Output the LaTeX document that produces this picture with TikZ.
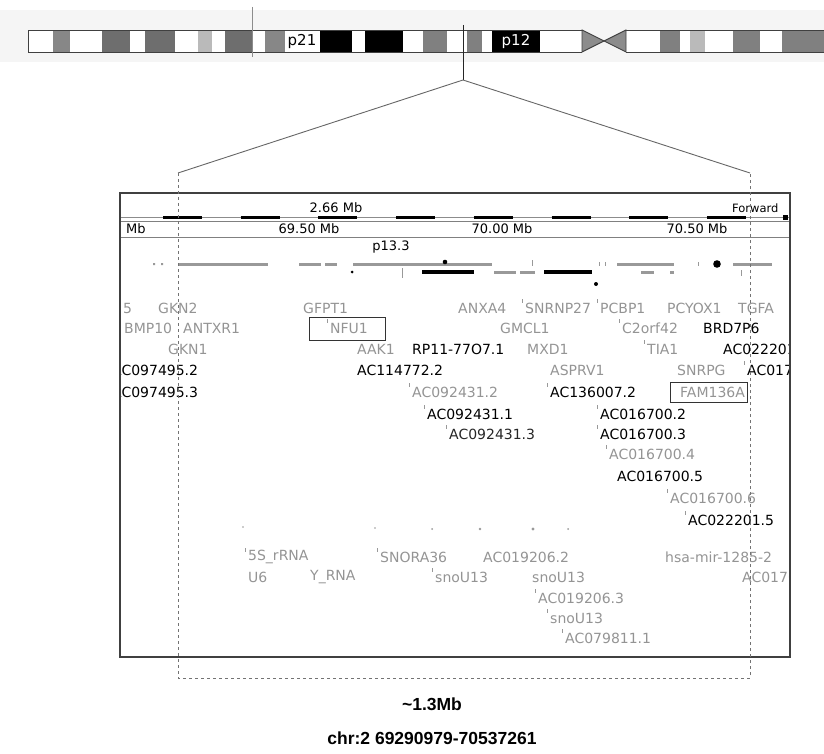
\documentclass[tikz,border=0pt]{standalone}
\usepackage{fontspec}
\setmainfont{DejaVu Sans}
\newfontfamily\capfont{Liberation Sans}
\usetikzlibrary{positioning}

\begin{document}
\begin{tikzpicture}[x=1pt,y=-1pt,
  band/.style={draw=black!75,line width=0.9pt},
  lbl/.style={anchor=west,inner sep=0pt,font=\fontsize{14}{14}\selectfont},
  scl/.style={inner sep=0pt,font=\fontsize{13}{13}\selectfont},
  trk/.style={black!40,line width=3pt},
  blk/.style={black,line width=4.5pt},
  caplbl/.style={inner sep=0pt,font=\capfont\bfseries\fontsize{17.5}{18}\selectfont}]
\useasboundingbox (0,0) rectangle (824,754);
% ideogram of chr2
\fill[black!4] (0,10) rectangle (824,62);
\foreach \a/\b/\c in {28/53/white,53/70/black!47,70/102/white,102/130/black!57,130/145/white,
  145/175/black!57,175/198/white,198/212/black!27,212/225/white,225/252/black!57,252/265/white,
  265/285/black!47,285/320/white,320/352/black,352/365/white,365/403/black,403/423/white,
  423/447/black!50,447/467/white,467/482/black!50,482/492/white,492/540/black,540/582/white,
  626/660/white,660/680/black!50,680/690/white,690/705/black!27,705/733/white,733/760/black!50,
  760/782/white,782/830/black!50}
  \fill[\c] (\a,30) rectangle (\b,52);
\draw[band] (582,30) -- (28,30) -- (28,52) -- (582,52);
\draw[band] (830,30) -- (626,30) (626,52) -- (830,52);
\filldraw[band,fill=black!45] (582,30) -- (604,41) -- (582,52) -- cycle;
\filldraw[band,fill=black!45] (626,30) -- (604,41) -- (626,52) -- cycle;
\node[inner sep=0pt,font=\fontsize{15}{15}\selectfont] (p21) at (302,41) {p21};
\node[inner sep=0pt,font=\fontsize{15}{15}\selectfont,text=white] (p12) at (516,41) {p12};
\draw[black!45] (252,7) -- (252,57);
% zoom lines
\coordinate (top) at (463,25);
\coordinate (apex) at (463,80);
\coordinate (zl) at (178,173);
\coordinate (zr) at (750,173);
\coordinate (bl) at (178,678);
\coordinate (br) at (750,678);
\draw[black!85] (top) -- (apex);
\draw[black!60,line width=0.9pt] (zl) -- (apex) -- (zr);
% browser panel
\draw[black!45] (120,217) -- (790,217);
\foreach \k in {0,...,7}
  \draw[black,line width=3pt] (163+77.7*\k,217) -- ++(39,0);
\fill[black] (783,215) rectangle (788,220);
\draw[black!50] (120,221) -- (790,221) (120,237) -- (790,237);
\node[scl] (len) at (336,208) {2.66 Mb};
\node[scl,font=\fontsize{11.5}{12}\selectfont,anchor=west] (fwd) at (732,208) {Forward};
\node[scl,anchor=west] (mb) at (126,229) {Mb};
\node[scl] (m1) at (309,229) {69.50 Mb};
\node[scl] (m2) at (502,229) {70.00 Mb};
\node[scl] (m3) at (697,229) {70.50 Mb};
\node[scl] (band) at (391,247) {p13.3};
% gene track
\draw[trk] (178,264) -- (268,264) (299,264) -- (321,264) (325,264) -- (337,264)
  (353,264) -- (492,264) (617,264) -- (674,264) (733,264) -- (772,264)
  (494,272) -- (516,272) (520,272) -- (535,272) (641,272) -- (654,272) (670,272) -- (674,272);
\fill[black!40] (153,263) rectangle (155,265) (161,263) rectangle (163,265);
\draw[blk] (422,272) -- (474,272) (544,272) -- (592,272);
\fill[black] (445,262) circle (2.3) (717,264) circle (3.8) (596,284) circle (2) (352,272) circle (1.5);
\draw[black!40] (402,268) -- (402,278) (532,260) -- (532,266) (599,262) -- (599,266)
  (605,262) -- (605,266) (698,262) -- (698,266) (741,270) -- (741,276);
% gene labels
\begin{scope}
\clip (121,194) rectangle (789,656);
\foreach \x/\y/\t/\c/\k [count=\i] in {
  123/308/5/black!42/0, 158/308/GKN2/black!42/0, 303/308/GFPT1/black!42/0,
  458/308/ANXA4/black!42/0, 525/308/SNRNP27/black!42/1, 600/308/PCBP1/black!42/1,
  667/308/PCYOX1/black!42/0, 738/308/TGFA/black!42/0,
  124/328/BMP10/black!42/0, 183/328/ANTXR1/black!42/0, 330/328/NFU1/black!42/1,
  500/328/GMCL1/black!42/0, 622/328/C2orf42/black!42/1, 703/328/BRD7P6/black/0,
  168/349/GKN1/black!42/0, 357/349/AAK1/black!42/0, 412/349/RP11-77O7.1/black/0,
  527/349/MXD1/black!42/0, 647/349/TIA1/black!42/1, 723/349/AC022201.4/black/0,
  112/370/AC097495.2/black/0, 357/370/AC114772.2/black/0, 550/370/ASPRV1/black!42/0,
  677/370/SNRPG/black!42/0, 747/370/AC017002.1/black/1,
  112/392/AC097495.3/black/0, 412/392/AC092431.2/black!42/1, 550/392/AC136007.2/black/1,
  680/392/FAM136A/black!42/0,
  427/414/AC092431.1/black/1, 600/414/AC016700.2/black/1,
  449/434/AC092431.3/black!85/1, 600/434/AC016700.3/black/1,
  609/454/AC016700.4/black!42/1, 617/476/AC016700.5/black/0,
  670/498/AC016700.6/black!42/1, 688/520/AC022201.5/black/1,
  248/557/5S\_rRNA/black!42/1, 380/557/SNORA36/black!42/1, 483/557/AC019206.2/black!42/0,
  665/557/hsa-mir-1285-2/black!42/0,
  248/577/U6/black!42/0, 310/577/Y\_RNA/black!42/0, 435/577/snoU13/black!42/1,
  532/577/snoU13/black!42/0, 742/577/AC017002.2/black!42/0,
  538/598/AC019206.3/black!42/1, 550/618/snoU13/black!42/1, 565/638/AC079811.1/black!42/1}
{
  \node[lbl,text=\c] (g\i) at (\x,\y) {\t};
  \ifnum\k=1 \draw[black!40] (\x-3,\y-9) -- (\x-3,\y-5); \fi
}
\end{scope}
\draw[black!80,line width=1pt] (309,317) rectangle (385,340);
\draw[black!80,line width=1pt] (670,382) rectangle (747,402);
\fill[black!40] (243,527) circle (0.8) (375,528) circle (0.8) (432,529) circle (1)
  (480,529) circle (1.4) (533,529) circle (1.6) (568,529) circle (1);
\draw[black!75,line width=1.2pt] (120,193) rectangle (790,657);
% zoomed region
\draw[black!55,dashed] (zl) -- (bl) -- (br) -- (zr);
\node[caplbl] (size) at (432,704) {\textasciitilde1.3Mb};
\node[caplbl,below=21pt of size] (chr) {chr:2 69290979-70537261};
\end{tikzpicture}
\end{document}
